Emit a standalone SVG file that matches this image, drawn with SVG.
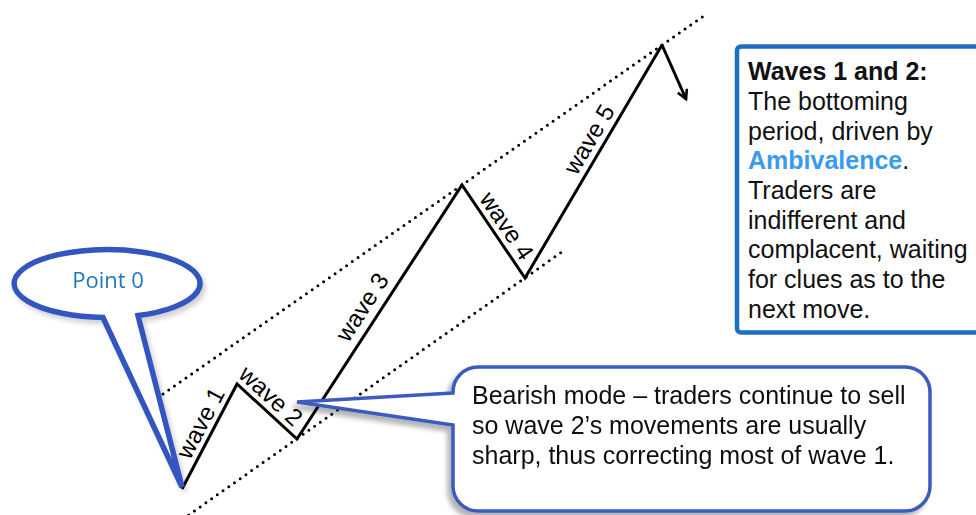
<svg xmlns="http://www.w3.org/2000/svg" width="976" height="515" viewBox="0 0 976 515">
  <defs>
    <filter id="softShadow" x="-20%" y="-20%" width="140%" height="140%">
      <feGaussianBlur in="SourceAlpha" stdDeviation="2.5"/>
      <feOffset dx="3" dy="4" result="b"/>
      <feComponentTransfer><feFuncA type="linear" slope="0.18"/></feComponentTransfer>
      <feMerge><feMergeNode/><feMergeNode in="SourceGraphic"/></feMerge>
    </filter>
    <filter id="boxShadow" x="-10%" y="-20%" width="120%" height="140%">
      <feGaussianBlur in="SourceAlpha" stdDeviation="2.5"/>
      <feOffset dx="-4" dy="5" result="b"/>
      <feComponentTransfer><feFuncA type="linear" slope="0.3"/></feComponentTransfer>
      <feMerge><feMergeNode/><feMergeNode in="SourceGraphic"/></feMerge>
    </filter>
    <marker id="openHead" viewBox="0 0 12 12" refX="10" refY="6" markerWidth="12" markerHeight="12" markerUnits="userSpaceOnUse" orient="auto">
      <path d="M1 1 L10 6 L1 11" fill="none" stroke="#000" stroke-width="2.6" stroke-linejoin="miter"/>
    </marker>
  </defs>
  <style>
    .wave { fill: none; stroke: #000; stroke-width: 3; stroke-linejoin: miter; }
    .channel { fill: none; stroke: #000; stroke-width: 3; stroke-linecap: round; stroke-dasharray: 0 7; }
    .lbl { font-family: "Liberation Sans", Arial, sans-serif; font-size: 24px; fill: #000; text-anchor: middle; }
    .body { font-family: "Liberation Sans", Arial, sans-serif; font-size: 25px; fill: #111; }
    .bold { font-weight: bold; }
    .accent { fill: #3A9AEE; font-weight: bold; }
  </style>
  <rect width="976" height="515" fill="#fff"/>

  <!-- trend channel and wave path -->
  <g id="connectors">
    <line class="channel" x1="163" y1="394" x2="705" y2="15"/>
    <line class="channel" x1="183" y1="519" x2="566" y2="249"/>
    <polyline class="wave" points="182,489 237,384 297,439 462,185 525,278 662,45"/>
    <line x1="662" y1="45" x2="686" y2="99" stroke="#000" stroke-width="3" marker-end="url(#openHead)"/>
  </g>

  <!-- wave labels, set along each leg -->
  <g id="wave-labels">
    <g transform="translate(182,489) rotate(-62.36)"><text class="lbl" x="67" y="-6">wave 1</text></g>
    <g transform="translate(237,384) rotate(42.5)"><text class="lbl" x="33" y="-6">wave 2</text></g>
    <g transform="translate(297,439) rotate(-57)"><text class="lbl" x="146" y="-9">wave 3</text></g>
    <g transform="translate(462,185) rotate(55.9)"><text class="lbl" x="59" y="-6">wave 4</text></g>
    <g transform="translate(525,278) rotate(-59.5)"><text class="lbl" x="152" y="-7">wave 5</text></g>
  </g>

  <!-- Point 0 speech bubble -->
  <g id="point0" filter="url(#softShadow)">
    <path d="M103 317.5 A93 34 0 1 1 138 315.6 L182 487 Z" fill="#fff" stroke="#3355BF" stroke-width="5.5" stroke-miterlimit="6"/>
    <text x="108" y="288" text-anchor="middle" font-family="'Open Sans', 'Noto Sans', sans-serif" font-size="22" fill="#1F77BF">Point 0</text>
  </g>

  <!-- wave 2 note callout -->
  <g id="bearish" filter="url(#boxShadow)">
    <path d="M453 393 L297 402 L453 425 L453 486 A25 25 0 0 0 478 511 L905 511 A25 25 0 0 0 930 486 L930 392 A25 25 0 0 0 905 367 L478 367 A25 25 0 0 0 453 392 Z" fill="#fff" stroke="#3A5BBE" stroke-width="3.5" stroke-linejoin="miter"/>
    <text class="body" x="472" y="404">Bearish mode – traders continue to sell</text>
    <text class="body" x="472" y="434">so wave 2’s movements are usually</text>
    <text class="body" x="472" y="464">sharp, thus correcting most of wave 1.</text>
  </g>

  <!-- side note -->
  <g id="side-note">
    <rect x="737" y="46.5" width="260" height="286" rx="4" fill="#fff" stroke="#1C6EC2" stroke-width="4.5"/>
    <text class="body bold" x="748" y="80">Waves 1 and 2:</text>
    <text class="body" x="748" y="110">The bottoming</text>
    <text class="body" x="748" y="139.5">period, driven by</text>
    <text class="body" x="748" y="169"><tspan class="accent">Ambivalence</tspan>.</text>
    <text class="body" x="748" y="199">Traders are</text>
    <text class="body" x="748" y="228.5">indifferent and</text>
    <text class="body" x="748" y="258">complacent, waiting</text>
    <text class="body" x="748" y="288">for clues as to the</text>
    <text class="body" x="748" y="317.5">next move.</text>
  </g>
</svg>
